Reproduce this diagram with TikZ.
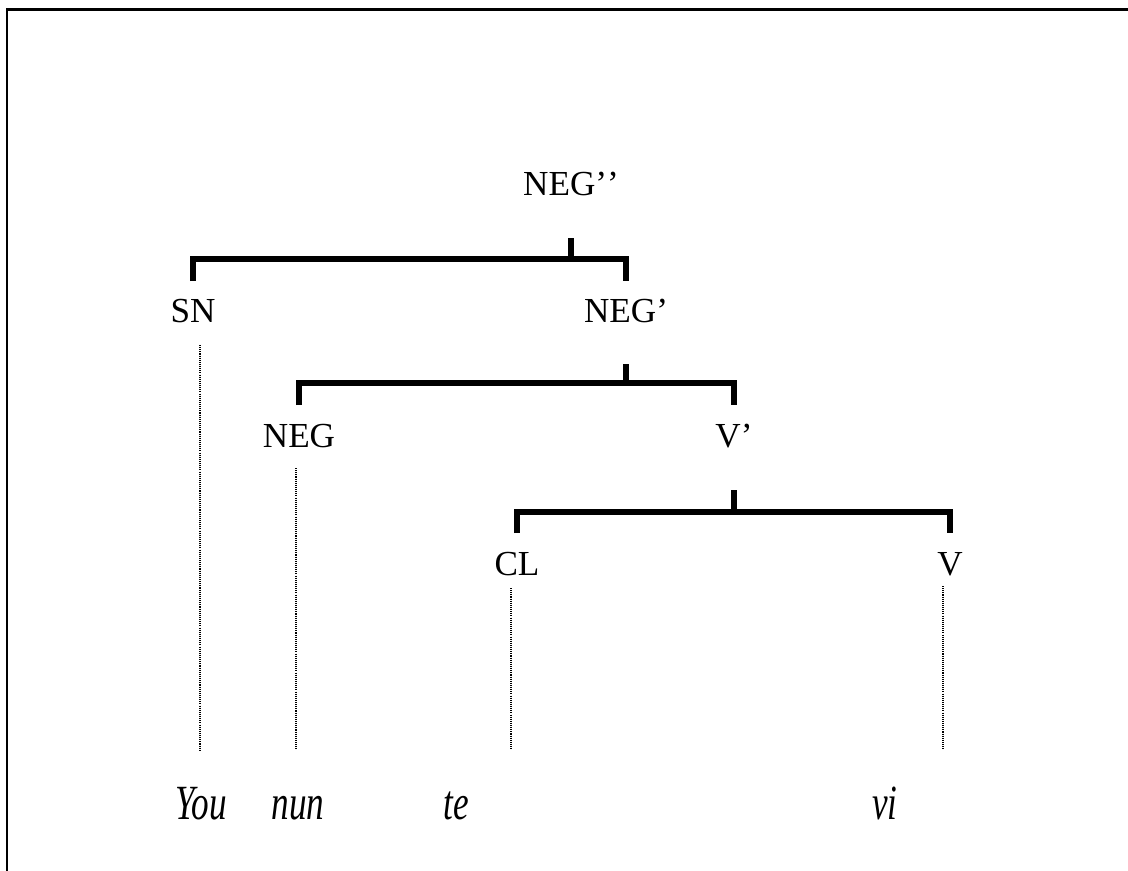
\documentclass[tikz,border=0pt]{standalone}
\usepackage{fontspec}
\setmainfont{Liberation Serif}

\tikzset{
    cat/.style = {inner sep = 0pt, anchor = base, font = \fontsize{20}{24}\selectfont},
    word/.style = {cat, font = \fontsize{20}{24}\selectfont\itshape, yscale = 1.4, transform shape},
    branch/.style = {line width = 3.4pt, line join = miter},
    trace/.style = {line width = 0.6pt, dash pattern = on 0.6pt off 0.6pt}
}

\begin{document}
\begin{tikzpicture}[x = 0.02cm, y = -0.02cm]
    \useasboundingbox (0,0) rectangle (1128,870);
    \clip (0,0) rectangle (1128,870);
    \draw[line width = 1.4pt] (7,9.5) rectangle (1160,900);

    % categories
    \node[cat] (negpp) at (571,195) {NEG’\kern0pt’};
    \node[cat] (sn)    at (193,322) {SN};
    \node[cat] (negp)  at (626,322) {NEG’};
    \node[cat] (neg)   at (299,447) {NEG};
    \node[cat] (vp)    at (734,447) {V’};
    \node[cat] (cl)    at (517,575) {CL};
    \node[cat] (v)     at (950,575) {V};

    % words
    \node[word] (you) at (201,819) {You};
    \node[word] (nun) at (298,819) {nun};
    \node[word] (te)  at (456,819) {te};
    \node[word] (vi)  at (885,819) {vi};

    % brackets
    \draw[branch] (negpp |- 0,238) -- (negpp |- 0,259);
    \draw[branch] (sn |- 0,281) -- (sn |- 0,259) -- (negp |- 0,259) -- (negp |- 0,281);

    \draw[branch] (negp |- 0,364) -- (negp |- 0,383);
    \draw[branch] (neg |- 0,405) -- (neg |- 0,383) -- (vp |- 0,383) -- (vp |- 0,405);

    \draw[branch] (vp |- 0,490) -- (vp |- 0,512);
    \draw[branch] (cl |- 0,533) -- (cl |- 0,512) -- (v |- 0,512) -- (v |- 0,533);

    % dotted traces
    \foreach \x/\y in {200/345, 296/468, 511/588, 943/586}
        \draw[trace] (\x,\y) -- (\x,750);
\end{tikzpicture}
\end{document}
